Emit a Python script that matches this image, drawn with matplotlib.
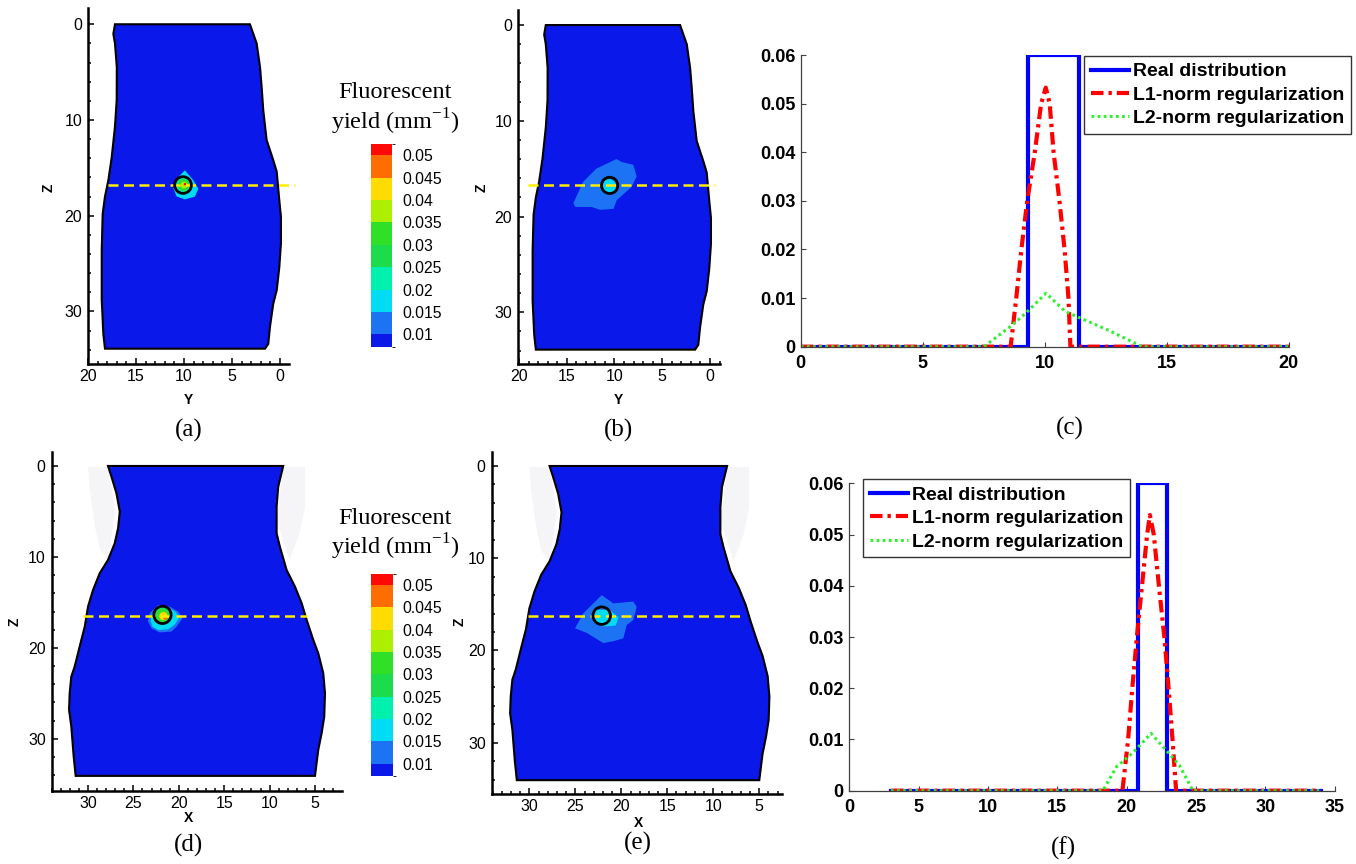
import matplotlib
matplotlib.use("Agg")
import matplotlib.pyplot as plt
from matplotlib import font_manager
from matplotlib.colors import ListedColormap, BoundaryNorm
from matplotlib.cm import ScalarMappable
from matplotlib.patches import Circle
from matplotlib.ticker import MultipleLocator

# ---- contour legend: levels (mm^-1) and band colours, lowest band first
levels = [0.01, 0.015, 0.02, 0.025, 0.03, 0.035, 0.04, 0.045, 0.05]
level_labels = ['0.01', '0.015', '0.02', '0.025', '0.03', '0.035', '0.04', '0.045', '0.05']
band_colors = ['#0a18ea', '#1c74f4', '#00dcf4', '#00f0ae', '#1cdc4c', '#30e028',
               '#acf000', '#ffdc00', '#ff6c00', '#ff0808']
bounds = [0.0072] + levels + [0.0525]
background_level = 0.008

# ---- torso outline, Y-Z plane (a, b)
torso_y = [17.19, 3.13, 2.43, 2.08, 1.91, 1.74, 1.39, 0.70, 0.34, 0.07, -0.10, -0.10, 0.07, 0.34,
           0.70, 1.04, 1.22, 1.56, 18.23, 18.40, 18.57, 18.57, 18.47, 18.23, 17.88, 17.53, 17.19,
           17.01, 17.00, 17.19, 17.36]
torso_z = [0.0, 0.0, 2.0, 4.46, 6.55, 8.99, 12.1, 14.2, 15.4, 18.4, 20.1, 22.9, 25.4, 27.8,
           29.2, 31.6, 33.4, 33.9, 33.9, 32.4, 28.8, 23.6, 19.8, 18.0, 16.3, 13.9, 10.7,
           7.9, 4.46, 2.0, 1.0]

# ---- phantom outline, X-Z plane (d, e)
vase_x = [27.8, 8.5, 9.05, 9.23, 9.23, 8.87, 8.13, 7.21, 6.47, 5.92, 5.19, 4.64, 4.09, 3.90,
          3.98, 4.27, 4.64, 5.0, 31.36, 31.58, 31.84, 32.09, 32.02, 31.84, 31.47, 30.92, 30.36,
          30.0, 29.45, 28.71, 27.8, 27.06, 26.69, 26.5, 26.87, 27.42]
vase_z = [0.0, 0.0, 2.27, 4.47, 7.4, 8.87, 11.43, 13.26, 15.09, 16.92, 19.12, 20.59, 22.78, 24.98,
          27.55, 29.38, 31.2, 34.07, 34.07, 31.94, 28.64, 26.81, 24.98, 23.15, 22.05, 19.85, 17.66,
          15.46, 13.63, 11.79, 10.33, 8.5, 6.85, 5.02, 3.0, 1.17]
shade_left_x = [30.0, 27.8, 27.0, 27.8, 28.7, 29.3, 29.8]
shade_left_z = [0.1, 0.1, 5.0, 10.3, 9.2, 6.3, 2.6]
shade_right_x = [8.5, 6.1, 6.1, 6.7, 7.8, 9.2]
shade_right_z = [0.1, 0.1, 4.5, 7.4, 10.3, 6.0]

# ---- reconstructed yield around the inclusion
# (a) L1-norm, Y-Z
a_blob_y = [9.9, 9.03, 8.51, 8.85, 9.9, 10.76, 11.1, 10.76]
a_blob_z = [15.26, 16.3, 17.17, 18.0, 18.3, 18.0, 17.17, 16.13]
a_blob_level = 0.017
a_core_y = [10.05, 10.05, 10.0, 9.9]
a_core_z = [16.8, 16.8, 16.8, 16.7]
a_core_r = [0.75, 0.6, 0.35, 0.13]
a_core_level = [0.022, 0.032, 0.037, 0.052]
# (b) L2-norm, Y-Z
b_blob_y = [14.3, 13.3, 11.9, 9.8, 9.25, 8.03, 7.68, 8.2, 9.77, 10.1, 11.5, 12.4, 14.1]
b_blob_z = [18.6, 16.4, 15.0, 14.0, 14.3, 14.6, 15.8, 16.9, 18.3, 19.2, 19.3, 19.0, 19.0]
b_blob_level = 0.012
b_core_y = [10.6]
b_core_z = [16.9]
b_core_r = [0.8]
b_core_level = [0.017]
# (d) L1-norm, X-Z
d_blob_x = [23.2, 22.28, 21.0, 20.08, 19.6, 20.25, 20.8, 22.1, 23.0, 23.4]
d_blob_z = [16.19, 15.27, 15.46, 16.0, 16.74, 17.66, 18.2, 18.3, 17.84, 17.1]
d_blob_level = 0.012
d_inner_x = [22.9, 22.1, 21.0, 20.3, 20.0, 20.5, 21.2, 22.2, 22.9, 23.1]
d_inner_z = [16.3, 15.5, 15.65, 16.1, 16.75, 17.5, 17.95, 18.05, 17.7, 17.0]
d_inner_level = 0.017
d_core_x = [21.8, 21.8, 21.7, 21.5]
d_core_z = [16.4, 16.4, 16.5, 16.7]
d_core_r = [0.95, 0.75, 0.45, 0.22]
d_core_level = [0.022, 0.032, 0.042, 0.047]
# (e) L2-norm, X-Z
e_blob_x = [25.03, 24.13, 23.04, 22.13, 20.87, 18.7, 18.33, 18.7, 19.41, 19.78, 20.87, 21.96, 23.76]
e_blob_z = [17.6, 15.98, 14.9, 14.0, 14.9, 14.7, 15.27, 16.7, 17.24, 18.69, 19.0, 19.2, 18.1]
e_blob_level = 0.012
e_inner_x = [22.9, 21.3, 20.3, 20.6, 21.8, 23.0]
e_inner_z = [15.6, 15.6, 16.4, 17.3, 17.4, 17.0]
e_inner_level = 0.017

# ---- true inclusion (circle) and profile line, panels a, b, d, e
ring_h = [10.1, 10.5, 21.8, 22.13]
ring_z = [16.8, 16.75, 16.37, 16.23]
ring_r = [0.87, 0.85, 0.95, 0.95]
prof_z = [16.8, 16.7, 16.45, 16.27]
prof_from = [17.9, 19.1, 30.55, 30.1]
prof_to = [-1.6, -0.5, 5.92, 6.9]

# ---- yield profiles along the dashed lines
c_real_x = [0, 9.3, 9.3, 11.4, 11.4, 20]
c_real_y = [0, 0, 0.06, 0.06, 0, 0]
c_l1_x = [0, 8.6, 8.83, 9.04, 9.28, 9.59, 9.85, 10.04, 10.2, 10.36, 10.6, 10.81, 10.97, 11.05, 20]
c_l1_y = [0, 0, 0.01, 0.02, 0.03, 0.04, 0.05, 0.0533, 0.05, 0.04, 0.03, 0.02, 0.01, 0, 0]
c_l2_x = [0, 7.5, 8.5, 9.2, 10.05, 10.85, 11.5, 12.6, 14.0, 20]
c_l2_y = [0, 0, 0.0038, 0.0068, 0.011, 0.0072, 0.0058, 0.0034, 0, 0]

f_real_x = [3, 20.8, 20.8, 22.9, 22.9, 34]
f_real_y = [0, 0, 0.06, 0.06, 0, 0]
f_l1_x = [3, 19.69, 20.1, 20.4, 20.73, 21.1, 21.47, 21.67, 21.95, 22.32, 22.71, 23.02, 23.3, 23.56, 34]
f_l1_y = [0, 0, 0.01, 0.02, 0.03, 0.04, 0.05, 0.0538, 0.05, 0.04, 0.03, 0.02, 0.01, 0, 0]
f_l2_x = [3, 18.28, 19.27, 20.4, 21.75, 22.94, 23.79, 24.77, 34]
f_l2_y = [0, 0, 0.0047, 0.0073, 0.0112, 0.0076, 0.005, 0, 0]

series_names = ['Real distribution', 'L1-norm regularization', 'L2-norm regularization']
prof_yticks = [0, 0.01, 0.02, 0.03, 0.04, 0.05, 0.06]
prof_ylabels = ['0', '0.01', '0.02', '0.03', '0.04', '0.05', '0.06']

# ---------------------------------------------------------------------------
installed = {f.name for f in font_manager.fontManager.ttflist}
NARROW = 'Liberation Sans Narrow' if 'Liberation Sans Narrow' in installed else 'Liberation Sans'
cb_size = 12.3 if NARROW == 'Liberation Sans Narrow' else 11.3

plt.rcParams['font.family'] = ['Liberation Sans', 'DejaVu Sans']
plt.rcParams['mathtext.fontset'] = 'custom'
plt.rcParams['mathtext.rm'] = 'Liberation Serif'

W, H = 1356, 864
fig = plt.figure(figsize=(W / 100, H / 100), dpi=100)

cmap = ListedColormap(band_colors)
norm = BoundaryNorm(bounds, cmap.N)


def px_axes(l, t, r, b):
    return fig.add_axes([l / W, 1 - b / H, (r - l) / W, (b - t) / H])


def ftext(x, y, s, **kw):
    fig.text(x / W, 1 - y / H, s, ha='center', va='center', **kw)


def level_color(v):
    return cmap(norm(v))


def slice_axes(ax, xlim, ylim, xmajor):
    ax.set_xlim(*xlim)
    ax.set_ylim(*ylim)
    ax.patch.set_visible(False)
    for s in ('top', 'right'):
        ax.spines[s].set_visible(False)
    for s in ('left', 'bottom'):
        ax.spines[s].set_linewidth(1.8)
    ax.set_xticks(xmajor)
    ax.set_yticks([0, 10, 20, 30])
    ax.xaxis.set_minor_locator(MultipleLocator(1))
    ax.yaxis.set_minor_locator(MultipleLocator(2))
    ax.tick_params(which='both', direction='in', width=1.1, labelsize=11.5)
    ax.tick_params(which='major', length=4.5)
    ax.tick_params(which='minor', length=2.3)
    ax.tick_params(axis='y', pad=4.3)
    ax.tick_params(axis='x', pad=3.8)


def draw_inclusion(ax, i):
    ax.plot([prof_from[i], prof_to[i]], [prof_z[i], prof_z[i]], color='#ffee00', lw=1.8,
            ls=(0, (4, 2.2)), zorder=5, clip_on=False)
    ax.add_patch(Circle((ring_h[i], ring_z[i]), ring_r[i], fill=False, ec='black', lw=2, zorder=6))


def draw_discs(ax, hs, zs, rs, lv):
    for h, z, r, v in zip(hs, zs, rs, lv):
        ax.add_patch(Circle((h, z), r, fc=level_color(v), ec='none', zorder=3))


# (a) L1 reconstruction, Y-Z slice
ax_a = px_axes(88, 8, 289, 364)
slice_axes(ax_a, (20, -0.94), (35.5, -1.7), [20, 15, 10, 5, 0])
ax_a.fill(torso_y, torso_z, fc=level_color(background_level), ec='black', lw=1.5, zorder=2)
ax_a.fill(a_blob_y, a_blob_z, fc=level_color(a_blob_level), ec='none', zorder=3)
draw_discs(ax_a, a_core_y, a_core_z, a_core_r, a_core_level)
draw_inclusion(ax_a, 0)

# (b) L2 reconstruction, Y-Z slice
ax_b = px_axes(518, 10, 720, 364)
slice_axes(ax_b, (20.1, -1.05), (35.4, -1.57), [20, 15, 10, 5, 0])
ax_b.fill(torso_y, torso_z, fc=level_color(background_level), ec='black', lw=1.5, zorder=2)
ax_b.fill(b_blob_y, b_blob_z, fc=level_color(b_blob_level), ec='none', zorder=3)
draw_discs(ax_b, b_core_y, b_core_z, b_core_r, b_core_level)
draw_inclusion(ax_b, 1)

# (d) L1 reconstruction, X-Z slice
ax_d = px_axes(51.7, 451.7, 341.7, 790.7)
slice_axes(ax_d, (34.0, 2.06), (35.7, -1.57), [30, 25, 20, 15, 10, 5])
# (e) L2 reconstruction, X-Z slice
ax_e = px_axes(491.7, 451.7, 782, 794)
slice_axes(ax_e, (34.09, 2.53), (35.57, -1.55), [30, 25, 20, 15, 10, 5])
for ax in (ax_d, ax_e):
    ax.fill(shade_left_x, shade_left_z, fc='#f5f5f7', ec='none', zorder=1)
    ax.fill(shade_right_x, shade_right_z, fc='#f5f5f7', ec='none', zorder=1)
    ax.fill(vase_x, vase_z, fc=level_color(background_level), ec='black', lw=1.5, zorder=2)
ax_d.fill(d_blob_x, d_blob_z, fc=level_color(d_blob_level), ec='none', zorder=3)
ax_d.fill(d_inner_x, d_inner_z, fc=level_color(d_inner_level), ec='none', zorder=3)
draw_discs(ax_d, d_core_x, d_core_z, d_core_r, d_core_level)
draw_inclusion(ax_d, 2)
ax_e.fill(e_blob_x, e_blob_z, fc=level_color(e_blob_level), ec='none', zorder=3)
ax_e.fill(e_inner_x, e_inner_z, fc=level_color(e_inner_level), ec='none', zorder=3)
draw_inclusion(ax_e, 3)

# axis names of the slices
for x, y, s, rot in [(48.3, 188, 'Z', 90), (188.3, 400, 'Y', 0),
                     (481.7, 188, 'Z', 90), (618.3, 400, 'Y', 0),
                     (15, 621.7, 'Z', 90), (188.3, 818.3, 'X', 0),
                     (460, 621.7, 'Z', 90), (638.3, 823.3, 'X', 0)]:
    ftext(x, y, s, rotation=rot, fontsize=10, fontweight='bold')

# contour legends
sm = ScalarMappable(norm=norm, cmap=cmap)
for (l, t, r, b), ty in [((371, 144.3, 392, 346.7), 93), ((370.7, 574, 392.7, 776), 518.3)]:
    cax = px_axes(l, t, r, b)
    cb = fig.colorbar(sm, cax=cax, spacing='proportional', ticks=levels)
    cb.set_ticklabels(level_labels)
    cb.outline.set_visible(False)
    cax.tick_params(length=0, pad=7.2, labelsize=cb_size)
    for lab in cax.get_yticklabels():
        lab.set_fontfamily(NARROW)
    ftext(395, ty, 'Fluorescent', fontsize=17.5, family='Liberation Serif')
    ftext(395, ty + 28.4, 'yield (mm$^{-1}$)', fontsize=17.5, family='Liberation Serif')


# profiles
def profile_axes(ax, xlim, xticks, real, l1, l2, legend_xy):
    ax.plot(real[0], real[1], color='#0000ff', lw=3, label=series_names[0])
    ax.plot(l1[0], l1[1], color='#ff0000', lw=3, ls=(0, (3, 1.2, 0.8, 1.2)), label=series_names[1])
    ax.plot(l2[0], l2[1], color='#2ef02e', lw=2.2, ls=(0, (0.9, 1.1)), label=series_names[2])
    ax.set_xlim(*xlim)
    ax.set_ylim(0, 0.06)
    for s in ('top', 'right'):
        ax.spines[s].set_visible(False)
    for s in ('left', 'bottom'):
        ax.spines[s].set_linewidth(0.9)
        ax.spines[s].set_color('#404040')
    ax.set_xticks(xticks)
    ax.set_yticks(prof_yticks)
    ax.set_yticklabels(prof_ylabels)
    ax.tick_params(direction='in', length=3.5, width=0.8, color='#404040', labelsize=13)
    ax.tick_params(axis='x', pad=6)
    ax.tick_params(axis='y', pad=4)
    for lab in ax.get_xticklabels() + ax.get_yticklabels():
        lab.set_fontweight('bold')
    leg = ax.legend(loc='upper left', bbox_to_anchor=(legend_xy[0] / W, 1 - legend_xy[1] / H),
                    bbox_transform=fig.transFigure, borderaxespad=0, fancybox=False,
                    edgecolor='#333333', framealpha=1, handlelength=1.96, handletextpad=0.2,
                    borderpad=0.35, labelspacing=0.3,
                    prop={'weight': 'bold', 'size': 14, 'family': 'Liberation Sans'})
    leg.get_frame().set_linewidth(1.0)


ax_c = px_axes(800.8, 55, 1288.8, 346.7)
profile_axes(ax_c, (0, 20), [0, 5, 10, 15, 20], (c_real_x, c_real_y), (c_l1_x, c_l1_y),
             (c_l2_x, c_l2_y), (1084.2, 56))
ax_f = px_axes(849.3, 483.3, 1334.8, 790.7)
profile_axes(ax_f, (0, 35), [0, 5, 10, 15, 20, 25, 30, 35], (f_real_x, f_real_y), (f_l1_x, f_l1_y),
             (f_l2_x, f_l2_y), (863.3, 479.3))

# panel letters
for x, y, s in [(188.3, 430, '(a)'), (618.3, 430, '(b)'), (1070, 428, '(c)'),
                (188.3, 845, '(d)'), (638.3, 843.3, '(e)'), (1063.3, 848.3, '(f)')]:
    ftext(x, y, s, fontsize=18, family='Liberation Serif')

fig.savefig('out.png', dpi=100)
